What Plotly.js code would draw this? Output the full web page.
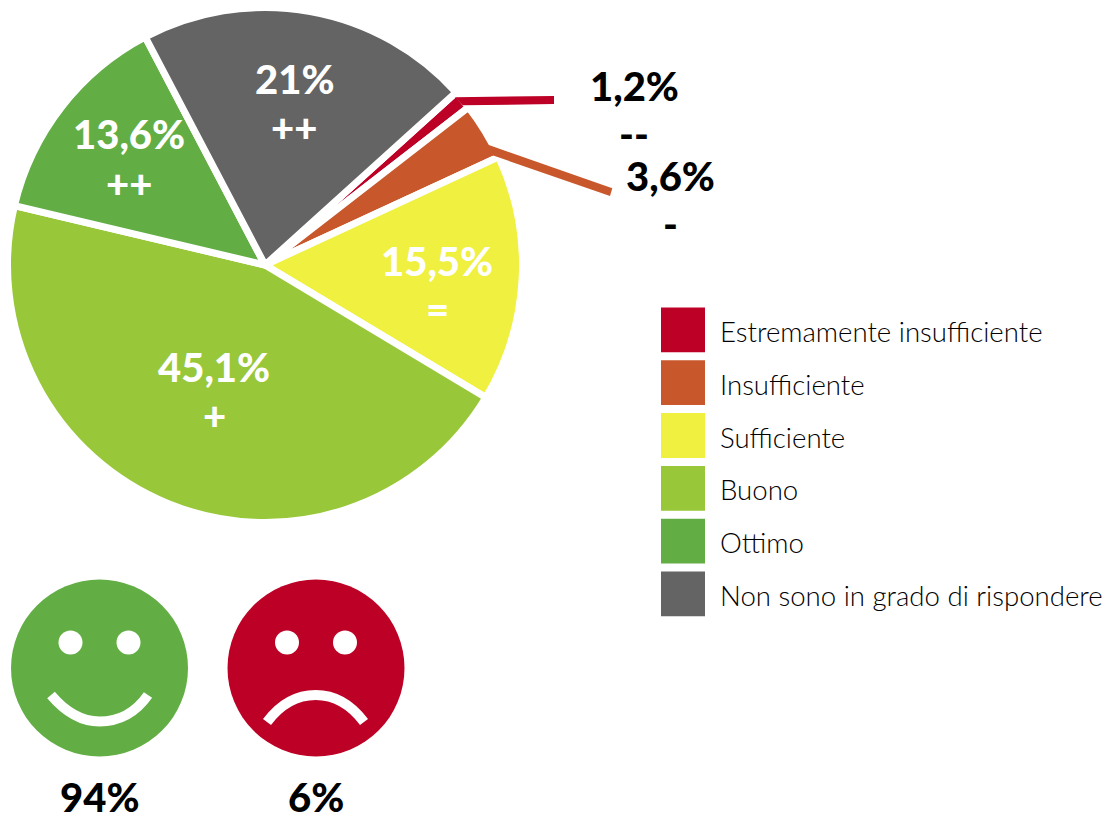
<!DOCTYPE html>
<html><head><meta charset="utf-8">
<script src="https://cdn.plot.ly/plotly-3.0.1.min.js"></script>
<style>html,body{margin:0;padding:0;background:#fff}</style></head>
<body><div id="chart" style="width:1112px;height:821px"></div>
<script>
const categories = ["Estremamente insufficiente","Insufficiente","Sufficiente","Buono","Ottimo","Non sono in grado di rispondere"];
const values = [1.2,3.6,15.5,45.1,13.6,21];
const colors = ["#BD0026","#C8582B","#F0F040","#98C739","#62AE45","#646464"];
const valueLabels = ["1,2%","3,6%","15,5%","45,1%","13,6%","21%"];
const marks = ["--","-","=","+","++","++"];
const summaryLabels = ["94%","6%"];

const W=1112,H=821;
const px=x=>x/W, py=y=>1-y/H;
const FONT="Lato, sans-serif";
const labelPos=[[634,86,634,134,"#000"],[670,176,670,224,"#000"],[437,261,437,309,"#fff"],[214,367,214,415,"#fff"],[129,134,129,183,"#fff"],[294,79,294,127,"#fff"]];
const ann=[];
const txt=(t,x,y,c,size,weight,anchor,extra)=>ann.push(Object.assign({text:t,xref:"paper",yref:"paper",x:px(x),y:py(y),xanchor:anchor||"center",yanchor:"middle",showarrow:false,font:{family:FONT,size:size,color:c,weight:weight||700}},extra||{}));
valueLabels.forEach((t,i)=>{const p=labelPos[i];txt(t,p[0],p[1],p[4],40,900);txt(marks[i],p[2],p[3],p[4],40,900);});
txt(summaryLabels[0],99,796.5,"#000",40,900,"center");txt(summaryLabels[1],316,796.5,"#000",40,900,"center");
const shapes=[];
const poly=(pts,c)=>{shapes.push({type:"path",xref:"x",yref:"y",path:"M"+pts.map(p=>p.join(",")).join("L")+"Z",fillcolor:c,line:{width:0}});};
const circle=(cx,cy,r,c)=>shapes.push({type:"circle",xref:"x",yref:"y",x0:cx-r,x1:cx+r,y0:cy-r,y1:cy+r,fillcolor:c,line:{width:0}});
const curve=(d)=>shapes.push({type:"path",xref:"x",yref:"y",path:d,line:{color:"#fff",width:10},fillcolor:"rgba(0,0,0,0)"});
poly([[455,97.3],[554,96],[554,104],[462.7,105.3]],colors[0]);
poly([[486,144],[612.3,188.3],[610,196],[491.7,155]],colors[1]);
circle(99.5,668,88.5,colors[4]);circle(316,668,88.5,colors[0]);
[[70.5,642.5],[128.5,642.5],[287,642.5],[345,642.5]].forEach(e=>circle(e[0],e[1],12,"#fff"));
curve("M51,695C68,715 84,721.5 99.5,721.5C116,721.5 134,715 148,695");
curve("M267,722C282,702 298,695 315.7,695C333,695 349,702 364,722");
categories.forEach((c,i)=>{const y=307.5+52.8*i;
 shapes.push({type:"rect",xref:"x",yref:"y",x0:661,x1:705,y0:y,y1:y+44.8,fillcolor:colors[i],line:{width:0}});
 txt(c,718,y+24,"#000",27.6,300,"left");});

Plotly.newPlot("chart",[
 {type:"scatter",x:[],y:[],showlegend:false,hoverinfo:"skip"},
 {type:"pie",labels:categories,values:values,sort:false,direction:"clockwise",rotation:47.9,
  marker:{colors:colors,line:{color:"#fff",width:7}},textinfo:"none",hoverinfo:"label+percent",showlegend:false,
  domain:{x:[7.5/W,522.5/W],y:[1-522.5/H,1-7.5/H]}}
],{width:W,height:H,margin:{l:0,r:0,t:0,b:0},paper_bgcolor:"#fff",plot_bgcolor:"rgba(0,0,0,0)",showlegend:false,
 xaxis:{range:[0,W],visible:false,domain:[0,1],fixedrange:true},
 yaxis:{range:[H,0],visible:false,domain:[0,1],fixedrange:true},
 shapes:shapes,annotations:ann},{displayModeBar:false,staticPlot:true});
</script></body></html>
